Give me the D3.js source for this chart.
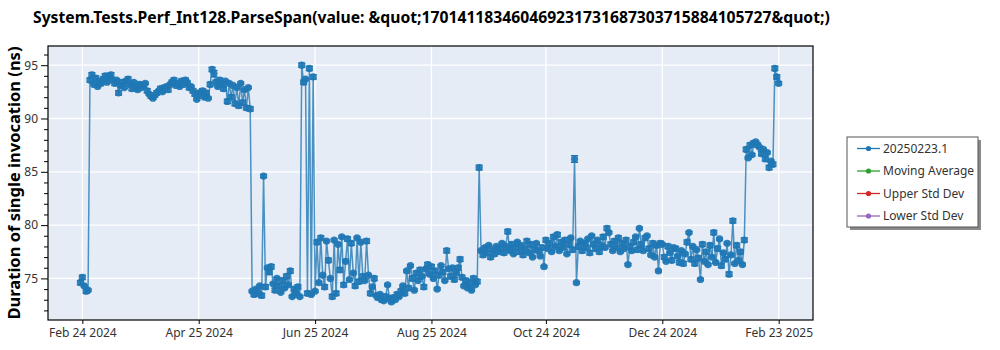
<!DOCTYPE html>
<html>
<head>
<meta charset="utf-8">
<script src="https://cdn.jsdelivr.net/npm/d3@7"></script>
<style>
  body { margin: 0; background: #fff; }
  svg { display: block; font-family: "Noto Sans", "Open Sans", sans-serif; }
</style>
</head>
<body>
<svg id="chart" width="1000" height="350"></svg>
<script>
// ---- chart data ----
const chartTitle = "System.Tests.Perf_Int128.ParseSpan(value: &quot;170141183460469231731687303715884105727&quot;)";
const yAxisTitle = "Duration of single invocation (ns)";
const seriesName = "20250223.1";

// one benchmark run per day, starting on this date
const firstRunDate = "2024-02-23";

// mean duration per run (ns)
const durationNs = [
  74.6, 75.1, 74.3, 73.8, 73.9, 93.6, 94.1, 93.2, 93.8, 93.0,
  93.5, 93.3, 93.7, 94.0, 93.4, 93.9, 94.1, 93.6, 93.3, 93.6,
  92.4, 93.1, 93.4, 92.9, 93.5, 93.7, 93.2, 92.8, 93.4, 93.0,
  92.7, 93.2, 92.9, 93.1, 93.3, 92.6, 92.3, 92.1, 91.9, 92.2,
  92.4, 92.6, 92.8, 92.5, 92.9, 93.0, 92.7, 93.2, 93.4, 93.6,
  93.1, 93.3, 93.0, 93.5, 93.2, 93.6, 93.4, 92.9, 93.0, 92.6,
  92.3, 91.8, 92.4, 92.2, 92.6, 92.0, 92.4, 91.9, 93.2, 94.6,
  94.2, 93.4, 93.0, 93.6, 93.2, 92.8, 93.5, 91.6, 93.3, 92.0,
  93.1, 91.4, 92.9, 91.2, 93.3, 91.5, 92.7, 91.0, 92.9, 90.9,
  73.8, 73.5, 74.0, 73.6, 74.3, 73.4, 84.6, 74.2, 76.0, 75.6,
  76.1, 74.5, 73.9, 75.0, 74.3, 73.7, 74.8, 74.1, 75.2, 74.4,
  75.7, 73.3, 74.0, 73.6, 74.2, 73.3, 95.0, 93.4, 93.7, 73.6,
  94.7, 73.5, 93.9, 73.8, 78.4, 74.6, 78.8, 75.3, 74.2, 78.5,
  76.7, 75.0, 73.3, 78.6, 73.6, 78.2, 75.8, 78.9, 74.4, 76.6,
  78.7, 74.9, 78.3, 75.5, 74.3, 78.8, 74.7, 78.4, 75.2, 74.8,
  78.5, 75.3, 73.6, 74.2, 75.0, 73.4, 73.2, 73.5, 73.0, 72.9,
  73.3, 74.4, 73.1, 72.8, 73.2, 73.0, 73.5, 73.3, 73.8, 74.3,
  73.6, 75.7, 74.1, 76.2, 75.0, 73.9, 75.5, 74.8, 75.8, 75.2,
  74.2, 75.9, 76.3, 75.4, 76.1, 75.0, 75.7, 74.0, 75.3, 76.2,
  75.6, 74.8, 77.6, 75.9, 75.2, 76.0, 74.9, 75.5, 76.0, 76.8,
  75.1, 74.3, 74.8, 74.1, 74.6, 73.9, 75.0, 74.4, 74.7, 85.4,
  77.6, 77.2, 77.9, 77.4, 78.1, 77.0, 77.7, 77.3, 78.0, 77.5,
  77.8, 78.3, 77.4, 78.0, 79.4, 77.6, 78.2, 77.3, 77.9, 78.4,
  77.5, 78.1, 77.2, 77.8, 78.5, 77.4, 78.2, 77.0, 77.7, 78.3,
  77.6, 77.1, 77.9, 76.1, 78.6, 77.8, 78.3, 77.5, 78.9, 78.0,
  79.1, 77.6, 78.4, 77.9, 78.6, 77.3, 78.2, 78.8, 77.7, 86.2,
  74.6, 78.0, 78.5, 77.6, 78.3, 77.9, 78.7, 77.4, 79.0, 78.2,
  77.8, 78.6, 77.5, 78.1, 78.9, 77.9, 79.7, 79.3, 78.2, 77.6,
  78.5, 77.9, 78.8, 77.5, 78.3, 77.8, 78.6, 76.3, 78.0, 77.6,
  78.4, 78.9, 77.7, 79.7, 78.2, 77.6, 78.8, 79.0, 77.8, 77.2,
  78.3, 77.0, 78.1, 75.7, 78.3, 78.2, 77.0, 76.6, 78.0, 77.4,
  76.7, 77.9, 77.8, 77.1, 76.5, 77.6, 76.4, 77.3, 78.4, 79.3,
  76.8, 78.0, 76.4, 77.7, 76.9, 74.9, 78.2, 76.6, 77.5, 76.3,
  78.1, 77.0, 79.3, 76.5, 77.8, 78.7, 76.2, 77.4, 76.8, 78.3,
  75.4, 77.2, 80.4, 76.4, 78.1, 76.7, 77.5, 76.3, 78.6, 87.1,
  86.3, 87.5, 86.6, 87.7, 87.8, 87.5, 87.3, 86.7, 87.1, 86.2,
  86.8, 85.4, 86.0, 85.7, 94.7, 93.9, 93.3
];

// error (ns) of each run's mean
const errorNs = [
  0.2, 0.2, 0.1, 0.2, 0.1, 0.2, 0.2, 0.1, 0.2, 0.1,
  0.2, 0.1, 0.2, 0.2, 0.1, 0.2, 0.2, 0.1, 0.2, 0.1,
  0.2, 0.1, 0.2, 0.1, 0.2, 0.2, 0.1, 0.2, 0.1, 0.2,
  0.1, 0.2, 0.1, 0.2, 0.1, 0.2, 0.1, 0.2, 0.1, 0.2,
  0.2, 0.1, 0.2, 0.1, 0.2, 0.1, 0.2, 0.1, 0.2, 0.2,
  0.1, 0.2, 0.1, 0.2, 0.1, 0.2, 0.1, 0.2, 0.1, 0.2,
  0.2, 0.1, 0.2, 0.1, 0.2, 0.1, 0.2, 0.1, 0.2, 0.2,
  0.3, 0.2, 0.1, 0.2, 0.1, 0.2, 0.1, 0.2, 0.1, 0.2,
  0.1, 0.2, 0.1, 0.2, 0.1, 0.2, 0.1, 0.2, 0.1, 0.2,
  0.1, 0.2, 0.1, 0.2, 0.1, 0.2, 0.15, 0.2, 0.1, 0.2,
  0.2, 0.1, 0.2, 0.1, 0.2, 0.1, 0.2, 0.1, 0.2, 0.1,
  0.2, 0.1, 0.2, 0.1, 0.2, 0.1, 0.2, 0.2, 0.1, 0.2,
  0.2, 0.1, 0.2, 0.1, 0.2, 0.1, 0.2, 0.1, 0.2, 0.1,
  0.2, 0.1, 0.2, 0.1, 0.2, 0.1, 0.2, 0.1, 0.2, 0.1,
  0.2, 0.1, 0.2, 0.1, 0.2, 0.1, 0.2, 0.1, 0.2, 0.1,
  0.2, 0.1, 0.2, 0.1, 0.2, 0.1, 0.2, 0.1, 0.2, 0.1,
  0.2, 0.1, 0.2, 0.1, 0.2, 0.1, 0.2, 0.1, 0.2, 0.1,
  0.2, 0.1, 0.2, 0.1, 0.2, 0.1, 0.2, 0.1, 0.2, 0.1,
  0.2, 0.1, 0.2, 0.1, 0.2, 0.1, 0.2, 0.1, 0.2, 0.1,
  0.2, 0.1, 0.2, 0.1, 0.2, 0.1, 0.2, 0.1, 0.2, 0.2,
  0.2, 0.1, 0.2, 0.1, 0.2, 0.1, 0.2, 0.1, 0.2, 0.22,
  0.1, 0.2, 0.1, 0.2, 0.1, 0.2, 0.1, 0.2, 0.1, 0.2,
  0.2, 0.1, 0.2, 0.1, 0.2, 0.1, 0.2, 0.1, 0.2, 0.1,
  0.2, 0.1, 0.2, 0.1, 0.2, 0.1, 0.2, 0.1, 0.2, 0.1,
  0.2, 0.1, 0.2, 0.1, 0.2, 0.1, 0.2, 0.1, 0.2, 0.1,
  0.2, 0.1, 0.2, 0.1, 0.2, 0.1, 0.2, 0.1, 0.2, 0.31,
  0.1, 0.2, 0.1, 0.2, 0.1, 0.2, 0.1, 0.2, 0.1, 0.2,
  0.2, 0.1, 0.2, 0.1, 0.2, 0.1, 0.2, 0.1, 0.2, 0.1,
  0.2, 0.1, 0.2, 0.1, 0.2, 0.1, 0.2, 0.1, 0.2, 0.1,
  0.2, 0.1, 0.2, 0.1, 0.2, 0.1, 0.2, 0.1, 0.2, 0.1,
  0.2, 0.1, 0.2, 0.1, 0.2, 0.1, 0.2, 0.1, 0.2, 0.1,
  0.2, 0.1, 0.2, 0.1, 0.2, 0.1, 0.2, 0.1, 0.2, 0.1,
  0.2, 0.1, 0.2, 0.1, 0.2, 0.1, 0.2, 0.1, 0.2, 0.1,
  0.2, 0.1, 0.2, 0.1, 0.2, 0.1, 0.2, 0.1, 0.2, 0.1,
  0.2, 0.1, 0.2, 0.1, 0.2, 0.1, 0.2, 0.1, 0.2, 0.2,
  0.1, 0.2, 0.1, 0.2, 0.1, 0.2, 0.1, 0.2, 0.1, 0.2,
  0.1, 0.2, 0.1, 0.2, 0.2, 0.2, 0.15
];

const xDomainDates = ["2024-02-06", "2025-03-13"];
const xTickDates = ["2024-02-24", "2024-04-25", "2024-06-25", "2024-08-25", "2024-10-24", "2024-12-24", "2025-02-23"];
const xTickLabels = ["Feb 24 2024", "Apr 25 2024", "Jun 25 2024", "Aug 25 2024", "Oct 24 2024", "Dec 24 2024", "Feb 23 2025"];
const yDomain = [71.1, 96.8];
const yMajorTicks = [75, 80, 85, 90, 95];
const yMinorTicks = [72, 73, 74, 76, 77, 78, 79, 81, 82, 83, 84, 86, 87, 88, 89, 91, 92, 93, 94, 96];

const legendNames = [seriesName, "Moving Average", "Upper Std Dev", "Lower Std Dev"];
const legendColors = ["#1f77b4", "#2ca02c", "#d62728", "#9467bd"];

// ---- layout ----
const plot = { left: 48, right: 813, top: 46, bottom: 320 };
const parseDate = d3.timeParse("%Y-%m-%d");
const svg = d3.select("#chart");

const x = d3.scaleTime()
  .domain(xDomainDates.map(parseDate))
  .range([plot.left, plot.right]);
const y = d3.scaleLinear()
  .domain(yDomain)
  .range([plot.bottom, plot.top]);

const start = parseDate(firstRunDate);
const runs = durationNs.map((v, i) => ({
  date: d3.timeDay.offset(start, i),
  value: v,
  err: errorNs[i]
}));

// title
svg.append("text")
  .attr("x", 33).attr("y", 23)
  .attr("font-size", 15.7).attr("font-weight", "bold")
  .attr("fill", "#000")
  .text(chartTitle);

// plot background
svg.append("rect")
  .attr("x", plot.left).attr("y", plot.top)
  .attr("width", plot.right - plot.left).attr("height", plot.bottom - plot.top)
  .attr("fill", "#e5ecf6");

svg.append("clipPath").attr("id", "plot-clip")
  .append("rect")
  .attr("x", plot.left).attr("y", plot.top)
  .attr("width", plot.right - plot.left).attr("height", plot.bottom - plot.top);

// grid
const grid = svg.append("g").attr("stroke", "#fff").attr("stroke-width", 1.3);
grid.selectAll("line.gy").data(yMajorTicks).join("line")
  .attr("x1", plot.left).attr("x2", plot.right)
  .attr("y1", d => y(d)).attr("y2", d => y(d));
grid.selectAll("line.gx").data(xTickDates.map(parseDate)).join("line")
  .attr("x1", d => x(d)).attr("x2", d => x(d))
  .attr("y1", plot.top).attr("y2", plot.bottom);

// series
const series = svg.append("g").attr("clip-path", "url(#plot-clip)");
const color = legendColors[0];

series.append("path")
  .datum(runs)
  .attr("fill", "none")
  .attr("stroke", color)
  .attr("stroke-opacity", 0.78)
  .attr("stroke-width", 1.5)
  .attr("d", d3.line().x(d => x(d.date)).y(d => y(d.value)));

const bars = series.append("g").attr("stroke", color).attr("stroke-width", 1.4);
bars.selectAll("line.eb").data(runs).join("line")
  .attr("x1", d => x(d.date)).attr("x2", d => x(d.date))
  .attr("y1", d => y(d.value - d.err)).attr("y2", d => y(d.value + d.err));
bars.selectAll("line.top").data(runs).join("line")
  .attr("x1", d => x(d.date) - 3.6).attr("x2", d => x(d.date) + 3.6)
  .attr("y1", d => y(d.value + d.err)).attr("y2", d => y(d.value + d.err));
bars.selectAll("line.bot").data(runs).join("line")
  .attr("x1", d => x(d.date) - 3.6).attr("x2", d => x(d.date) + 3.6)
  .attr("y1", d => y(d.value - d.err)).attr("y2", d => y(d.value - d.err));

series.append("g").selectAll("circle").data(runs).join("circle")
  .attr("cx", d => x(d.date))
  .attr("cy", d => y(d.value))
  .attr("r", 3.6)
  .attr("fill", color)
  .attr("fill-opacity", 0.92);

// frame
svg.append("rect")
  .attr("x", plot.left).attr("y", plot.top)
  .attr("width", plot.right - plot.left).attr("height", plot.bottom - plot.top)
  .attr("fill", "none").attr("stroke", "#000").attr("stroke-width", 1.2);

// y axis
const yAxis = svg.append("g").attr("transform", `translate(${plot.left},0)`)
  .call(d3.axisLeft(y).tickValues(yMajorTicks).tickSize(7).tickPadding(3).tickFormat(d3.format("d")));
svg.append("g").attr("transform", `translate(${plot.left},0)`)
  .call(d3.axisLeft(y).tickValues(yMinorTicks).tickSize(4).tickFormat(""))
  .call(g => g.select(".domain").remove());
yAxis.select(".domain").remove();
yAxis.selectAll("text").attr("font-size", 12).attr("fill", "#333")
  .attr("font-family", "\"Noto Sans\", sans-serif");

// x axis
const xAxis = svg.append("g").attr("transform", `translate(0,${plot.bottom})`)
  .call(d3.axisBottom(x).tickValues(xTickDates.map(parseDate)).tickSize(4).tickPadding(4)
    .tickFormat((d, i) => xTickLabels[i]));
xAxis.select(".domain").remove();
xAxis.selectAll("text").attr("font-size", 12).attr("fill", "#333")
  .attr("font-family", "\"Noto Sans\", sans-serif");

// y axis title
svg.append("text")
  .attr("transform", `translate(20,${(plot.top + plot.bottom) / 2}) rotate(-90)`)
  .attr("text-anchor", "middle")
  .attr("font-size", 16.5).attr("font-weight", "bold")
  .attr("fill", "#000")
  .text(yAxisTitle);

// legend
const lg = svg.append("g").attr("transform", "translate(847,137)");
lg.append("rect").attr("x", 3).attr("y", 3).attr("width", 131).attr("height", 90)
  .attr("fill", "#8a8a8a");
lg.append("rect").attr("x", 0).attr("y", 0).attr("width", 131).attr("height", 90)
  .attr("fill", "#fff").attr("stroke", "#555").attr("stroke-width", 1);
const items = lg.selectAll("g.item").data(legendNames).join("g")
  .attr("transform", (d, i) => `translate(0,${11.5 + i * 22.5})`);
items.append("line").attr("x1", 10).attr("x2", 33).attr("y1", 0).attr("y2", 0)
  .attr("stroke", (d, i) => legendColors[i]).attr("stroke-width", 1.3);
items.append("circle").attr("cx", 21.5).attr("cy", 0).attr("r", 2.6)
  .attr("fill", (d, i) => legendColors[i]);
items.append("text").attr("x", 36).attr("y", 0).attr("dy", "0.35em")
  .attr("font-size", 12).attr("fill", "#333")
  .text(d => d);
</script>
</body>
</html>
